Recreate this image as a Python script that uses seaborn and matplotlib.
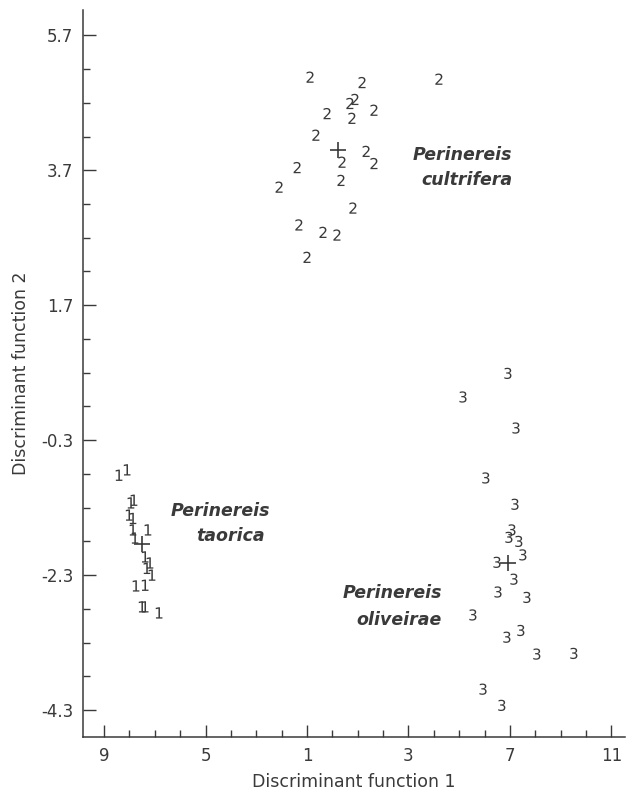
import numpy as np
import pandas as pd
import matplotlib
matplotlib.use("Agg")
import matplotlib.pyplot as plt
import seaborn as sns
from matplotlib.ticker import FixedLocator

# ---------------- data ----------------
g1_x = [-8.41, -8.09, -7.94, -7.82, -8.01, -7.86, -7.86, -7.27, -7.78, -7.38,
        -7.19, -7.31, -7.11, -7.74, -7.38, -7.50, -7.38, -6.83]
g1_y = [-0.82, -0.74, -1.23, -1.19, -1.41, -1.46, -1.63, -1.63, -1.75, -2.03,
        -2.12, -2.20, -2.30, -2.46, -2.45, -2.77, -2.77, -2.86]

g2_x = [-0.88, 1.17, 4.20, 0.69, 0.89, -0.21, 1.64, 0.77, -0.65, 0.38,
        1.33, 1.64, -1.39, -2.10, 0.34, 0.81, -1.32, -0.37, 0.18, -1.00]
g2_y = [5.08, 5.00, 5.05, 4.69, 4.75, 4.54, 4.59, 4.47, 4.22, 3.82,
        3.98, 3.80, 3.74, 3.45, 3.55, 3.14, 2.89, 2.78, 2.74, 2.41]

g3_x = [6.92, 5.15, 7.24, 6.05, 7.20, 7.08, 6.96, 7.35, 6.49, 7.51,
        7.16, 6.53, 7.67, 5.54, 6.88, 7.43, 8.06, 9.52, 5.94, 6.68]
g3_y = [0.69, 0.34, -0.12, -0.86, -1.25, -1.63, -1.74, -1.80, -2.11, -2.00,
        -2.36, -2.55, -2.63, -2.89, -3.22, -3.12, -3.47, -3.46, -3.99, -4.23]

centroid_x = [-7.50, 0.22, 6.92]
centroid_y = [-1.84, 4.00, -2.12]

x_ticks = [-9, -5, -1, 3, 7, 11]
x_tick_labels = ["9", "5", "1", "3", "7", "11"]
y_ticks = [5.7, 3.7, 1.7, -0.3, -2.3, -4.3]
y_tick_labels = ["5.7", "3.7", "1.7", "-0.3", "-2.3", "-4.3"]

species_line1 = ["Perinereis", "Perinereis", "Perinereis"]
species_line2 = ["taorica", "cultrifera", "oliveirae"]

# ---------------- layout constants ----------------
label_pos1 = [(-4.43, -1.35), (5.11, 3.92), (2.35, -2.57)]
label_pos2 = [(-4.03, -1.72), (5.31, 3.55), (2.63, -2.97)]

df = pd.DataFrame({
    "x": g1_x + g2_x + g3_x,
    "y": g1_y + g2_y + g3_y,
    "group": ["1"] * len(g1_x) + ["2"] * len(g2_x) + ["3"] * len(g3_x),
})
cent = pd.DataFrame({"x": centroid_x, "y": centroid_y})

sns.set_theme(style="white")
plt.rcParams["font.family"] = ["DejaVu Sans"]

ink = "#3a3a3a"
fig = plt.figure(figsize=(6.35, 7.96), dpi=100)
ax = fig.add_axes([0.1307, 0.074, 0.984 - 0.1307, 0.987 - 0.074])

sns.scatterplot(data=df, x="x", y="y", style="group",
                markers={"1": "$1$", "2": "$2$", "3": "$3$"},
                color=ink, s=66, linewidth=0, legend=False, ax=ax)
sns.scatterplot(data=cent, x="x", y="y", marker="+", color=ink,
                s=120, linewidth=1.2, legend=False, ax=ax)

for (p1, p2, t1, t2) in zip(label_pos1, label_pos2, species_line1, species_line2):
    ax.text(p1[0], p1[1], t1, ha="center", va="center", fontsize=12.5,
            fontweight="bold", fontstyle="italic", color=ink)
    ax.text(p2[0], p2[1], t2, ha="center", va="center", fontsize=12.5,
            fontweight="bold", fontstyle="italic", color=ink)

ax.set_xlim(-9.83, 11.53)
ax.set_ylim(-4.70, 6.07)

ax.set_xticks(x_ticks)
ax.set_xticklabels(x_tick_labels)
ax.set_yticks(y_ticks)
ax.set_yticklabels(y_tick_labels)
ax.xaxis.set_minor_locator(FixedLocator(np.arange(-9, 11.5, 1.0)))
ax.yaxis.set_minor_locator(FixedLocator(np.arange(-4.3, 5.75, 0.5)))

ax.tick_params(axis="both", which="major", direction="in", length=9, width=1,
               color=ink, labelsize=12, labelcolor=ink, pad=7)
ax.tick_params(axis="both", which="minor", direction="in", length=5, width=1,
               color=ink)
ax.tick_params(axis="x", which="both", bottom=True, top=False)
ax.tick_params(axis="y", which="both", left=True, right=False)

for side in ["top", "right"]:
    ax.spines[side].set_visible(False)
for side in ["left", "bottom"]:
    ax.spines[side].set_color(ink)
    ax.spines[side].set_linewidth(1.1)

ax.set_xlabel("Discriminant function 1", fontsize=12.5, color=ink, labelpad=6)
ax.set_ylabel("Discriminant function 2", fontsize=12.5, color=ink, labelpad=8)

fig.savefig("out.png", dpi=100, facecolor="white")
